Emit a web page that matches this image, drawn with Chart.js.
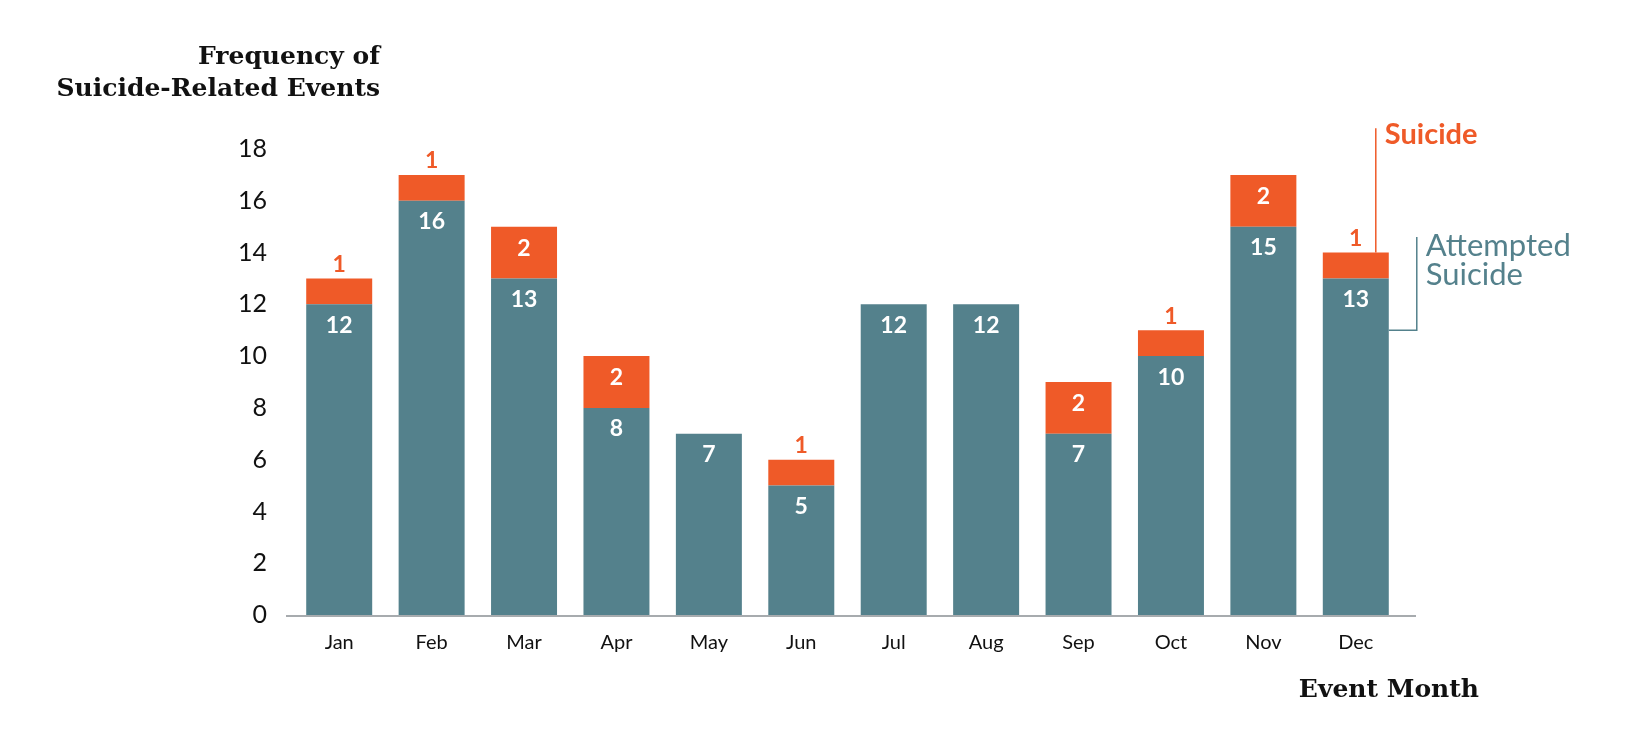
<!DOCTYPE html>
<html>
<head>
<meta charset="utf-8">
<script src="https://cdn.jsdelivr.net/npm/chart.js@4.4.1/dist/chart.umd.min.js"></script>
<style>
html,body{margin:0;padding:0;background:#fff;}
#wrap{width:1650px;height:734px;position:relative;}
</style>
</head>
<body>
<div id="wrap"><canvas id="c" width="1650" height="734"></canvas></div>
<script>
const months = ['Jan','Feb','Mar','Apr','May','Jun','Jul','Aug','Sep','Oct','Nov','Dec'];
const attempted = [12,16,13,8,7,5,12,12,7,10,15,13];
const suicide = [1,1,2,2,0,1,0,0,2,1,2,1];
const yTicks = [0,2,4,6,8,10,12,14,16,18];

const TEAL = '#54818c';
const ORANGE = '#ef5a28';
const SERIF = '"DejaVu Serif", serif';
const SANS = 'Lato, "Open Sans", sans-serif';

const decor = {
  id: 'decor',
  afterDatasetsDraw(chart) {
    const ctx = chart.ctx;
    const ca = chart.chartArea;
    const m0 = chart.getDatasetMeta(0);
    const m1 = chart.getDatasetMeta(1);
    ctx.save();
    // x axis line
    ctx.strokeStyle = '#a7abae';
    ctx.lineWidth = 2;
    ctx.beginPath();
    ctx.moveTo(ca.left - 7, ca.bottom + 1);
    ctx.lineTo(ca.right + 14, ca.bottom + 1);
    ctx.stroke();
    // data labels
    ctx.textAlign = 'center';
    ctx.textBaseline = 'middle';
    ctx.font = 'bold 23px ' + SANS;
    m0.data.forEach((bar, i) => {
      if (!attempted[i]) return;
      ctx.fillStyle = '#ffffff';
      ctx.fillText(String(attempted[i]), bar.x, bar.y + 21);
    });
    m1.data.forEach((bar, i) => {
      const v = suicide[i];
      if (!v) return;
      if (v === 1) {
        ctx.fillStyle = ORANGE;
        ctx.fillText(String(v), bar.x, bar.y - 14);
      } else {
        ctx.fillStyle = '#ffffff';
        ctx.fillText(String(v), bar.x, (bar.y + bar.base) / 2 - 4);
      }
    });
    // legend connectors on last bar
    const last = months.length - 1;
    const sb = m1.data[last];
    const ab = m0.data[last];
    const ys = chart.scales.y;
    const half = ab.width / 2;
    ctx.lineWidth = 1.5;
    ctx.strokeStyle = ORANGE;
    ctx.beginPath();
    ctx.moveTo(sb.x + 20, sb.y);
    ctx.lineTo(sb.x + 20, ys.getPixelForValue(18.8));
    ctx.stroke();
    ctx.strokeStyle = TEAL;
    const yMid = ys.getPixelForValue(attempted[last] - 2);
    const xr = ab.x + half + 28;
    ctx.beginPath();
    ctx.moveTo(ab.x + half, yMid);
    ctx.lineTo(xr, yMid);
    ctx.lineTo(xr, ys.getPixelForValue(14.6));
    ctx.stroke();
    ctx.textAlign = 'left';
    ctx.font = 'bold 29px ' + SANS;
    ctx.fillStyle = ORANGE;
    ctx.fillText('Suicide', sb.x + 29, ys.getPixelForValue(18.6) + 1);
    ctx.font = '31px ' + SANS;
    ctx.fillStyle = TEAL;
    ctx.fillText('Attempted', xr + 9, ys.getPixelForValue(14.3) + 1);
    ctx.fillText('Suicide', xr + 9, ys.getPixelForValue(13.2) + 2);
    // titles
    ctx.fillStyle = '#111111';
    ctx.font = 'bold 25px ' + SERIF;
    ctx.textAlign = 'right';
    ctx.fillText('Frequency of', 380, 57);
    ctx.fillText('Suicide-Related Events', 380, 89);
    ctx.fillText('Event Month', 1479, 690);
    ctx.restore();
  }
};

new Chart(document.getElementById('c'), {
  type: 'bar',
  data: {
    labels: months,
    datasets: [
      { label: 'Attempted Suicide', data: attempted, backgroundColor: TEAL, barPercentage: 0.714, categoryPercentage: 1 },
      { label: 'Suicide', data: suicide, backgroundColor: ORANGE, barPercentage: 0.714, categoryPercentage: 1 }
    ]
  },
  options: {
    responsive: false,
    animation: false,
    layout: { padding: { top: 149, right: 248, left: 0, bottom: 0 } },
    plugins: { legend: { display: false }, tooltip: { enabled: false } },
    scales: {
      x: {
        stacked: true,
        grid: { display: false, drawTicks: false },
        border: { display: false },
        ticks: { color: '#111', font: { family: SANS, size: 20 }, padding: 16 },
        afterFit(s) { s.height = 119; }
      },
      y: {
        stacked: true,
        min: 0, max: 18,
        afterBuildTicks(s) { s.ticks = yTicks.map(v => ({ value: v })); },
        grid: { display: false, drawTicks: false },
        border: { display: false },
        ticks: { color: '#111', font: { family: SANS, size: 25 }, padding: 26 },
        afterFit(s) { s.width = 293; }
      }
    }
  },
  plugins: [decor]
});
</script>
</body>
</html>
